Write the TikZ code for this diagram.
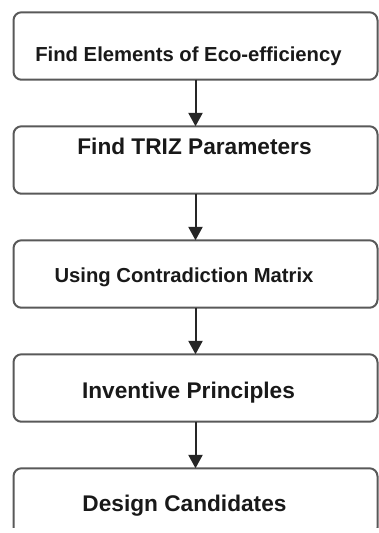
\documentclass[tikz,border=0pt]{standalone}
\usepackage{fontspec}
\setmainfont{Liberation Sans}
\usepackage{tikz}
\usetikzlibrary{arrows.meta,positioning}
\tikzset{
	stepbox/.style={
		rectangle, minimum width=273pt, minimum height=50.6pt, rounded corners=6pt,
		line width=1.5pt, draw=black!65, fill=white, inner sep=0pt, outer sep=0pt
	},
	%
	steptext/.style={
		anchor=base, inner sep=0pt, text=black!90,
		font=\bfseries\fontsize{15.2}{18}\selectfont
	},
	%
	bigtext/.style={
		steptext, font=\bfseries\fontsize{17}{20}\selectfont
	},
	%
	steparrow/.style={
		line width=1.5pt, draw=black!85, -{Triangle[width=10.5pt,length=10pt]}
	}
}

\begin{document}
\begin{tikzpicture}[x=0.75pt, y=-0.75pt, node distance=34.9pt]
\useasboundingbox (0,0) rectangle (379,533);
\clip (0,0) rectangle (379,527);

%boxes
\node (elem) [stepbox] at (195.5,46) {};
\node (triz) [stepbox, below=of elem] {};
\node (contra) [stepbox, below=of triz] {};
\node (invent) [stepbox, below=of contra] {};
\node (design) [stepbox, below=of invent] {};

%labels
\node (elemtext) [steptext] at ([shift={(-7,15)}]elem.center) {Find Elements of Eco-efficiency};
\node (triztext) [bigtext] at ([shift={(-1,-6)}]triz.center) {Find TRIZ Parameters};
\node (contratext) [steptext] at ([shift={(-11.5,8.6)}]contra.center) {Using Contradiction Matrix};
\node (inventtext) [bigtext] at ([shift={(-7,10.4)}]invent.center) {Inventive Principles};
\node (designtext) [bigtext] at ([shift={(-11,9.7)}]design.center) {Design Candidates};

%arrows
\draw[steparrow] (elem) to (triz);
\draw[steparrow] (triz) to (contra);
\draw[steparrow] (contra) to (invent);
\draw[steparrow] (invent) to (design);
\end{tikzpicture}
\end{document}
